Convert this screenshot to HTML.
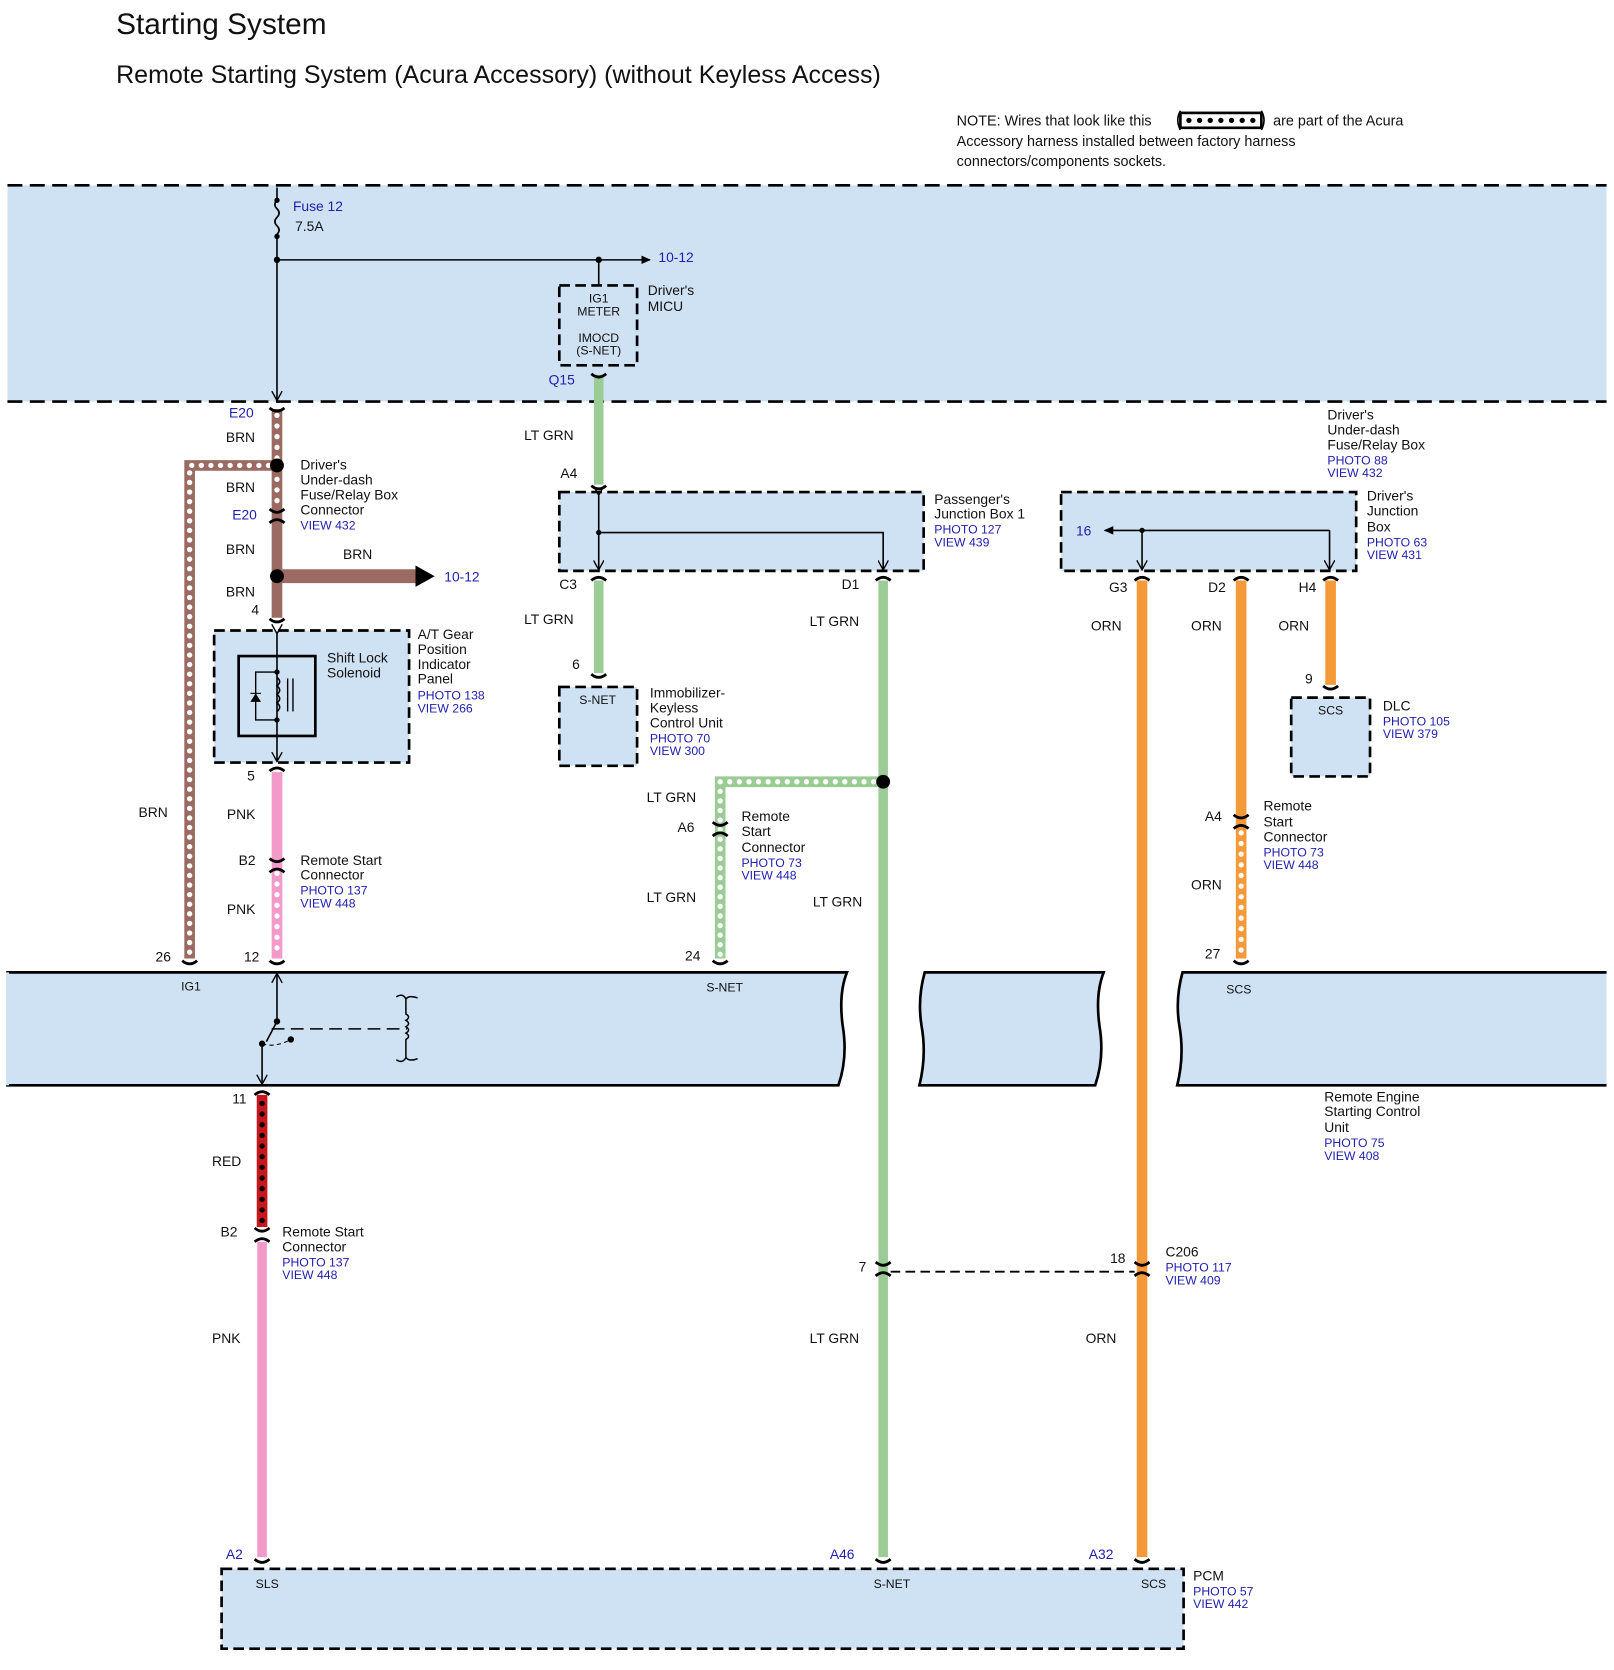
<!DOCTYPE html>
<html><head><meta charset="utf-8"><style>
html,body{margin:0;padding:0;background:#fff}
svg{display:block}
text{font-family:"Liberation Sans",sans-serif;font-size:13px;fill:#111}
.b{fill:#1f1fb0}
.s{font-size:11.5px}
</style></head><body>
<svg width="1614" height="1670" viewBox="0 0 1515 1568" preserveAspectRatio="none" xmlns="http://www.w3.org/2000/svg">
<defs>
<marker id="ar" markerWidth="10" markerHeight="10" refX="8" refY="5" orient="auto" markerUnits="userSpaceOnUse"><path d="M0,0 L9,5 L0,10" fill="none" stroke="#000" stroke-width="1.3"/></marker>
<marker id="af" markerWidth="10" markerHeight="10" refX="8" refY="5" orient="auto" markerUnits="userSpaceOnUse"><path d="M0,1 L9,5 L0,9 Z" fill="#000"/></marker>
</defs>
<text x="109" y="32" style="font-size:28px">Starting System</text>
<text x="109" y="78" style="font-size:23.5px">Remote Starting System (Acura Accessory) (without Keyless Access)</text>
<text x="898" y="118" style="font-size:13.5px">NOTE: Wires that look like this</text>
<text x="1195" y="118" style="font-size:13.5px">are part of the Acura</text>
<text x="898" y="137" style="font-size:13.5px">Accessory harness installed between factory harness</text>
<text x="898" y="156" style="font-size:13.5px">connectors/components sockets.</text>
<rect x="1108" y="106" width="76" height="14" fill="none" stroke="#000" stroke-width="2.5"/>
<line x1="1116" y1="113" x2="1178" y2="113" stroke="#000" stroke-width="5" stroke-dasharray="0 10" stroke-linecap="round"/>
<path d="M1108,104 q-5,9 0,18 M1184,104 q5,9 0,18" fill="none" stroke="#000" stroke-width="1.5"/>

<rect x="7" y="174" width="1501" height="203" fill="#cfe2f3"/>
<line x1="7" y1="174" x2="1508" y2="174" stroke="#000" stroke-width="2.5" stroke-dasharray="14 7"/>
<line x1="7" y1="377" x2="1508" y2="377" stroke="#000" stroke-width="2.5" stroke-dasharray="14 7"/>
<path d="M260,176 V188 q-4,4 0,8 q4,4 0,8 q-4,4 0,8 q4,4 0,8 V244" fill="none" stroke="#000" stroke-width="1.5"/>
<circle cx="260" cy="188" r="2.5"/><circle cx="260" cy="222" r="2.5"/>
<text x="275" y="198" class="b">Fuse 12</text><text x="277" y="217">7.5A</text>
<line x1="260" y1="244" x2="610" y2="244" stroke="#000" stroke-width="1.5" marker-end="url(#af)"/>
<circle cx="260" cy="244" r="3"/><circle cx="562" cy="244" r="3"/>
<text x="618" y="246" class="b">10-12</text>
<line x1="260" y1="244" x2="260" y2="375" stroke="#000" stroke-width="1.5" marker-end="url(#ar)"/>
<line x1="562" y1="244" x2="562" y2="268" stroke="#000" stroke-width="1.5"/>
<rect x="525" y="268" width="73" height="75" fill="#cfe2f3" stroke="#000" stroke-width="2.5" stroke-dasharray="10 5"/>
<text x="562" y="284" class="s" text-anchor="middle">IG1</text><text x="562" y="296" class="s" text-anchor="middle">METER</text>
<text x="562" y="321" class="s" text-anchor="middle">IMOCD</text><text x="562" y="333" class="s" text-anchor="middle">(S-NET)</text>
<text x="608" y="277">Driver's</text><text x="608" y="292">MICU</text>
<text x="515" y="361" class="b">Q15</text>

<g stroke-linecap="butt" fill="none">
<line x1="562" y1="352" x2="562" y2="455" stroke="#9ccc95" stroke-width="9"/>
<line x1="562" y1="545" x2="562" y2="632" stroke="#9ccc95" stroke-width="9"/>
<line x1="829" y1="545" x2="829" y2="1462" stroke="#9ccc95" stroke-width="9"/>
<path d="M829,734 H676 V900" stroke="#9ccc95" stroke-width="10"/>
<path d="M829,734 H676 V900" stroke="#fff" stroke-width="5" stroke-dasharray="0 9" stroke-linecap="round"/>
<line x1="260" y1="384" x2="260" y2="580" stroke="#9b6b63" stroke-width="10"/>
<line x1="260" y1="390" x2="260" y2="476" stroke="#fff" stroke-width="5" stroke-dasharray="0 10" stroke-linecap="round"/>
<path d="M260,437 H178 V900" stroke="#9b6b63" stroke-width="10"/>
<path d="M252,437 H178 V896" stroke="#fff" stroke-width="5" stroke-dasharray="0 9" stroke-linecap="round"/>
<line x1="260" y1="541" x2="395" y2="541" stroke="#9b6b63" stroke-width="13"/>
<line x1="260" y1="725" x2="260" y2="900" stroke="#f49ac9" stroke-width="10"/>
<line x1="260" y1="820" x2="260" y2="896" stroke="#fff" stroke-width="5" stroke-dasharray="0 10" stroke-linecap="round"/>
<line x1="246" y1="1028" x2="246" y2="1152" stroke="#c8161b" stroke-width="10"/>
<line x1="246" y1="1036" x2="246" y2="1148" stroke="#000" stroke-width="5" stroke-dasharray="0 10" stroke-linecap="round"/>
<line x1="246" y1="1166" x2="246" y2="1462" stroke="#f49ac9" stroke-width="9"/>
<line x1="1072" y1="545" x2="1072" y2="1462" stroke="#f59a38" stroke-width="10"/>
<line x1="1165" y1="545" x2="1165" y2="900" stroke="#f59a38" stroke-width="10"/>
<line x1="1165" y1="782" x2="1165" y2="896" stroke="#fff" stroke-width="5" stroke-dasharray="0 10" stroke-linecap="round"/>
<line x1="1249" y1="545" x2="1249" y2="643" stroke="#f59a38" stroke-width="10"/>
</g>
<path d="M390,531 L408,541 L390,551 Z" fill="#000"/>
<circle cx="260" cy="437" r="6.5"/><circle cx="260" cy="541" r="6.5"/><circle cx="829" cy="734" r="6.5"/>

<g fill="none" stroke="#000" stroke-width="2.6">
<path d="M253,383 q7,6 14,0 M253,478 q7,6 14,0 M253,491 q7,-6 14,0 M253,581 q7,6 14,0 M253,724 q7,-6 14,0 M253,806 q7,6 14,0 M253,819 q7,-6 14,0 M253,902 q7,6 14,0"/>
<path d="M171,902 q7,6 14,0 M669,902 q7,6 14,0 M1158,902 q7,6 14,0 M1158,765 q7,6 14,0 M1158,778 q7,-6 14,0 M669,772 q7,6 14,0 M669,785 q7,-6 14,0"/>
<path d="M555,351 q7,6 14,0 M555,456 q7,6 14,0 M555,545 q7,-6 14,0 M555,633 q7,6 14,0 M822,545 q7,-6 14,0 M1065,545 q7,-6 14,0 M1158,545 q7,-6 14,0 M1242,545 q7,-6 14,0 M1242,644 q7,6 14,0"/>
<path d="M239,1028 q7,-6 14,0 M239,1153 q7,6 14,0 M239,1166 q7,-6 14,0 M822,1185 q7,6 14,0 M822,1198 q7,-6 14,0 M1065,1185 q7,6 14,0 M1065,1198 q7,-6 14,0"/>
<path d="M239,1464 q7,6 14,0 M822,1464 q7,6 14,0 M1065,1464 q7,6 14,0"/>
</g>
<line x1="836" y1="1194" x2="1065" y2="1194" stroke="#000" stroke-width="1.8" stroke-dasharray="9 5"/>

<text x="215" y="392" class="b">E20</text><text x="212" y="415">BRN</text><text x="212" y="462">BRN</text>
<text x="218" y="488" class="b">E20</text><text x="212" y="520">BRN</text><text x="212" y="560">BRN</text><text x="236" y="577">4</text>
<text x="322" y="525">BRN</text><text x="417" y="546" class="b">10-12</text>
<text x="282" y="441">Driver's</text><text x="282" y="455">Under-dash</text><text x="282" y="469">Fuse/Relay Box</text><text x="282" y="483">Connector</text><text x="282" y="497" class="b s">VIEW 432</text>

<rect x="201" y="592" width="183" height="124" fill="#cfe2f3" stroke="#000" stroke-width="2.5" stroke-dasharray="10 5"/>
<rect x="224" y="616" width="72" height="75" fill="none" stroke="#000" stroke-width="2.5"/>
<line x1="260" y1="594" x2="260" y2="714" stroke="#000" stroke-width="1.5" marker-start="url(#ar)" marker-end="url(#ar)"/>
<path d="M260,631 H240 V676 H260" fill="none" stroke="#000" stroke-width="1.3"/>
<path d="M260,636 q5,4 0,8 q5,4 0,8 q5,4 0,8 q5,4 0,8" fill="none" stroke="#000" stroke-width="1.5"/>
<path d="M235,659 H245 L240,651 Z" fill="#000"/><line x1="235" y1="651" x2="245" y2="651" stroke="#000"/>
<line x1="270" y1="637" x2="270" y2="668" stroke="#000" stroke-width="1.3"/><line x1="275" y1="637" x2="275" y2="668" stroke="#000" stroke-width="1.3"/>
<circle cx="260" cy="631" r="2.5"/><circle cx="260" cy="676" r="2.5"/>
<text x="307" y="622">Shift Lock</text><text x="307" y="636">Solenoid</text>
<text x="392" y="600">A/T Gear</text><text x="392" y="614">Position</text><text x="392" y="628">Indicator</text><text x="392" y="642">Panel</text>
<text x="392" y="657" class="b s">PHOTO 138</text><text x="392" y="669" class="b s">VIEW 266</text>
<text x="232" y="733">5</text><text x="213" y="769">PNK</text><text x="130" y="767">BRN</text>
<text x="224" y="812">B2</text><text x="282" y="812">Remote Start</text><text x="282" y="826">Connector</text>
<text x="282" y="840" class="b s">PHOTO 137</text><text x="282" y="852" class="b s">VIEW 448</text>
<text x="213" y="858">PNK</text><text x="146" y="903">26</text><text x="229" y="903">12</text>

<text x="492" y="413">LT GRN</text><text x="526" y="449">A4</text>
<rect x="525" y="462" width="342" height="74" fill="#cfe2f3" stroke="#000" stroke-width="2.5" stroke-dasharray="10 5"/>
<line x1="562" y1="464" x2="562" y2="534" stroke="#000" stroke-width="1.5" marker-start="url(#ar)" marker-end="url(#ar)"/>
<path d="M562,500 H829 V534" fill="none" stroke="#000" stroke-width="1.5" marker-end="url(#ar)"/>
<circle cx="562" cy="500" r="2.5"/>
<text x="877" y="473">Passenger's</text><text x="877" y="487">Junction Box 1</text><text x="877" y="501" class="b s">PHOTO 127</text><text x="877" y="513" class="b s">VIEW 439</text>
<text x="525" y="553">C3</text><text x="790" y="553">D1</text>
<text x="492" y="586">LT GRN</text><text x="760" y="588">LT GRN</text><text x="537" y="628">6</text>
<rect x="525" y="645" width="73" height="74" fill="#cfe2f3" stroke="#000" stroke-width="2.5" stroke-dasharray="10 5"/>
<text x="561" y="661" class="s" text-anchor="middle">S-NET</text>
<text x="610" y="655">Immobilizer-</text><text x="610" y="669">Keyless</text><text x="610" y="683">Control Unit</text><text x="610" y="697" class="b s">PHOTO 70</text><text x="610" y="709" class="b s">VIEW 300</text>
<text x="607" y="753">LT GRN</text><text x="636" y="781">A6</text>
<text x="696" y="771">Remote</text><text x="696" y="785">Start</text><text x="696" y="800">Connector</text><text x="696" y="814" class="b s">PHOTO 73</text><text x="696" y="826" class="b s">VIEW 448</text>
<text x="607" y="847">LT GRN</text><text x="763" y="851">LT GRN</text><text x="643" y="902">24</text>

<text x="1246" y="394">Driver's</text><text x="1246" y="408">Under-dash</text><text x="1246" y="422">Fuse/Relay Box</text><text x="1246" y="436" class="b s">PHOTO 88</text><text x="1246" y="448" class="b s">VIEW 432</text>
<rect x="996" y="462" width="277" height="74" fill="#cfe2f3" stroke="#000" stroke-width="2.5" stroke-dasharray="10 5"/>
<path d="M1248,498 H1037" fill="none" stroke="#000" stroke-width="1.5" marker-end="url(#af)"/>
<line x1="1248" y1="498" x2="1248" y2="534" stroke="#000" stroke-width="1.5" marker-end="url(#ar)"/>
<line x1="1072" y1="498" x2="1072" y2="534" stroke="#000" stroke-width="1.5" marker-end="url(#ar)"/>
<circle cx="1072" cy="498" r="2.5"/>
<text x="1010" y="503" class="b">16</text>
<text x="1283" y="470">Driver's</text><text x="1283" y="484">Junction</text><text x="1283" y="499">Box</text><text x="1283" y="513" class="b s">PHOTO 63</text><text x="1283" y="525" class="b s">VIEW 431</text>
<text x="1041" y="556">G3</text><text x="1134" y="556">D2</text><text x="1219" y="556">H4</text>
<text x="1024" y="592">ORN</text><text x="1118" y="592">ORN</text><text x="1200" y="592">ORN</text>
<text x="1225" y="642">9</text>
<rect x="1212" y="655" width="74" height="74" fill="#cfe2f3" stroke="#000" stroke-width="2.5" stroke-dasharray="10 5"/>
<text x="1249" y="671" class="s" text-anchor="middle">SCS</text>
<text x="1298" y="667">DLC</text><text x="1298" y="681" class="b s">PHOTO 105</text><text x="1298" y="693" class="b s">VIEW 379</text>
<text x="1131" y="771">A4</text>
<text x="1186" y="761">Remote</text><text x="1186" y="776">Start</text><text x="1186" y="790">Connector</text><text x="1186" y="804" class="b s">PHOTO 73</text><text x="1186" y="816" class="b s">VIEW 448</text>
<text x="1118" y="835">ORN</text><text x="1131" y="900">27</text>

<path d="M7,913 H795 q-8,20 -4,50 q5,30 -4,56 H7 Z" fill="#cfe2f3" stroke="#000" stroke-width="2.5"/>
<path d="M7,913 V1019" stroke="#cfe2f3" stroke-width="3"/>
<path d="M868,913 H1036 q-8,20 -4,50 q5,30 -4,56 H863 q7,-28 2,-56 q-4,-25 3,-50 Z" fill="#cfe2f3" stroke="#000" stroke-width="2.5"/>
<path d="M1508,913 H1110 q-7,25 -3,50 q5,28 -2,56 H1508" fill="#cfe2f3" stroke="#000" stroke-width="2.5"/>
<text x="170" y="930" class="s">IG1</text><text x="663" y="931" class="s">S-NET</text><text x="1151" y="933" class="s">SCS</text>
<line x1="260" y1="959" x2="260" y2="915" stroke="#000" stroke-width="1.5" marker-end="url(#ar)"/>
<path d="M260,959 L250,978" stroke="#000" stroke-width="1.5" fill="none"/>
<line x1="246" y1="980" x2="246" y2="1017" stroke="#000" stroke-width="1.5" marker-end="url(#ar)"/>
<circle cx="260" cy="959" r="3"/><circle cx="246" cy="980" r="3"/><circle cx="273" cy="976" r="3"/>
<path d="M246,980 q12,4 27,-4" fill="none" stroke="#000" stroke-width="1" stroke-dasharray="4 3"/>
<line x1="255" y1="966" x2="382" y2="966" stroke="#000" stroke-width="1.4" stroke-dasharray="12 6"/>
<path d="M372,936 q6,-4 9,2 V952 q5,3 0,6 q5,3 0,6 q5,3 0,6 q5,3 0,6 V993 q-3,6 -9,2 M381,938 q3,-4 11,-1 M381,993 q3,4 11,1" fill="none" stroke="#000" stroke-width="1.4"/>
<text x="1243" y="1034">Remote Engine</text><text x="1243" y="1048">Starting Control</text><text x="1243" y="1063">Unit</text><text x="1243" y="1077" class="b s">PHOTO 75</text><text x="1243" y="1089" class="b s">VIEW 408</text>

<text x="218" y="1036">11</text><text x="199" y="1095">RED</text>
<text x="207" y="1161">B2</text><text x="265" y="1161">Remote Start</text><text x="265" y="1175">Connector</text><text x="265" y="1189" class="b s">PHOTO 137</text><text x="265" y="1201" class="b s">VIEW 448</text>
<text x="199" y="1261">PNK</text><text x="760" y="1261">LT GRN</text><text x="1019" y="1261">ORN</text>
<text x="806" y="1194">7</text><text x="1042" y="1186">18</text>
<text x="1094" y="1180">C206</text><text x="1094" y="1194" class="b s">PHOTO 117</text><text x="1094" y="1206" class="b s">VIEW 409</text>
<text x="212" y="1464" class="b">A2</text><text x="779" y="1464" class="b">A46</text><text x="1022" y="1464" class="b">A32</text>
<rect x="208" y="1473" width="903" height="75" fill="#cfe2f3" stroke="#000" stroke-width="2.5" stroke-dasharray="10 5"/>
<text x="240" y="1491" class="s">SLS</text><text x="820" y="1491" class="s">S-NET</text><text x="1071" y="1491" class="s">SCS</text>
<text x="1120" y="1484">PCM</text><text x="1120" y="1498" class="b s">PHOTO 57</text><text x="1120" y="1510" class="b s">VIEW 442</text>
</svg>
</body></html>
